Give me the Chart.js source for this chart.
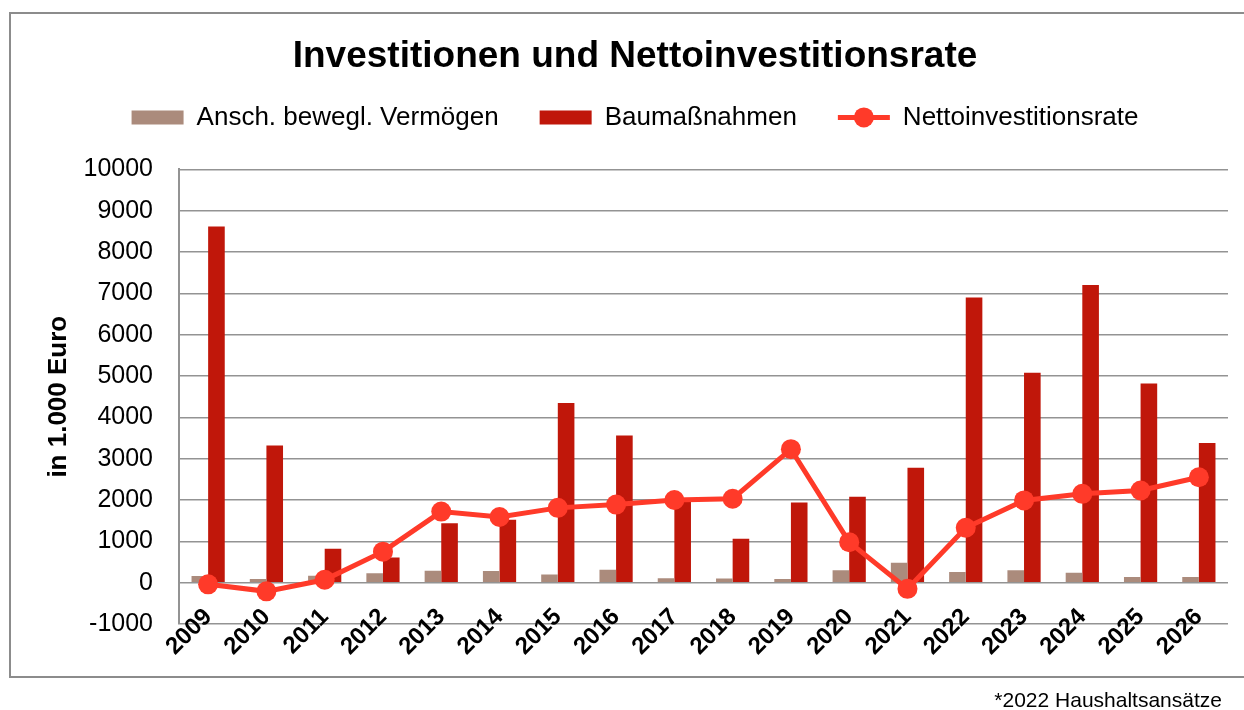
<!DOCTYPE html>
<html lang="de">
<head>
    <meta charset="UTF-8">
    <title>Investitionen und Nettoinvestitionsrate</title>
    <script src="https://cdn.jsdelivr.net/npm/chart.js"></script>
    <style>
        body {
            margin: 0;
            background: #fff;
            font-family: "Liberation Sans", Arial, sans-serif;
        }

        .frame {
            position: absolute;
            left: 9px;
            top: 12px;
            width: 1250px;
            height: 662px;
            border: 2px solid #8c8c8c;
        }

        .chart-box {
            position: absolute;
            left: 0;
            top: 0;
            width: 1244px;
            height: 710px;
        }

        .note {
            position: absolute;
            right: 22px;
            top: 688px;
            font-size: 21px;
            line-height: 24px;
            color: #000;
        }
    </style>
</head>
<body>

    <div class="frame"></div>
    <div class="chart-box">
        <canvas id="investChart" width="1244" height="710"></canvas>
    </div>
    <div class="note">*2022 Haushaltsansätze</div>

    <script>
        // Daten (in 1.000 Euro)
        const jahre = ['2009', '2010', '2011', '2012', '2013', '2014', '2015', '2016', '2017',
                       '2018', '2019', '2020', '2021', '2022', '2023', '2024', '2025', '2026'];
        const anschaffungen = [160, 90, 170, 230, 290, 280, 200, 310, 110,
                               100, 90, 300, 485, 260, 300, 240, 140, 140];
        const baumassnahmen = [8620, 3320, 820, 610, 1440, 1520, 4350, 3560, 1960,
                               1060, 1940, 2080, 2780, 6900, 5080, 7200, 4820, 3380];
        const nettoRate = [-40, -210, 70, 750, 1720, 1590, 1810, 1890, 2000,
                           2030, 3230, 980, -150, 1330, 1990, 2150, 2230, 2550];
        const yMin = -1000;
        const yMax = 10000;
        const yStep = 1000;

        const grau = '#ab8b7c';
        const rot = '#c0170a';
        const linie = '#ff3a29';

        Chart.defaults.font.family = "'Liberation Sans', Arial, sans-serif";
        Chart.defaults.color = '#000';

        // Platz zwischen Legende und Diagramm
        const legendGap = {
            id: 'legendGap',
            beforeInit(chart) {
                const fit = chart.legend.fit;
                chart.legend.fit = function () {
                    fit.call(this);
                    this.height += 29;
                };
            }
        };

        // Linie mit Punkt als Legendensymbol
        const legendMarker = {
            id: 'legendMarker',
            afterDraw(chart) {
                const lg = chart.legend;
                const i = lg.legendItems.findIndex(it => it.datasetIndex === 2);
                const hb = lg.legendHitBoxes[i];
                if (!hb) return;
                const ctx = chart.ctx;
                const cy = hb.top + 13;
                ctx.save();
                ctx.strokeStyle = linie;
                ctx.lineWidth = 5;
                ctx.beginPath();
                ctx.moveTo(hb.left, cy);
                ctx.lineTo(hb.left + 52, cy);
                ctx.stroke();
                ctx.fillStyle = linie;
                ctx.beginPath();
                ctx.arc(hb.left + 26, cy, 10, 0, Math.PI * 2);
                ctx.fill();
                ctx.restore();
            }
        };

        const ctx = document.getElementById('investChart').getContext('2d');
        const investChart = new Chart(ctx, {
            type: 'bar',
            data: {
                labels: jahre,
                datasets: [{
                    label: 'Ansch. bewegl. Vermögen',
                    data: anschaffungen,
                    backgroundColor: grau,
                    categoryPercentage: 0.57,
                    barPercentage: 1,
                    order: 1
                }, {
                    label: 'Baumaßnahmen',
                    data: baumassnahmen,
                    backgroundColor: rot,
                    categoryPercentage: 0.57,
                    barPercentage: 1,
                    order: 1
                }, {
                    type: 'line',
                    label: 'Nettoinvestitionsrate',
                    data: nettoRate,
                    borderColor: linie,
                    backgroundColor: linie,
                    borderWidth: 5,
                    pointRadius: 10,
                    pointHoverRadius: 10,
                    pointBorderWidth: 0,
                    pointBackgroundColor: linie,
                    tension: 0,
                    order: 0
                }]
            },
            options: {
                responsive: false,
                animation: false,
                layout: {
                    padding: { top: 12, left: 42, right: 16, bottom: 10 }
                },
                plugins: {
                    title: {
                        display: true,
                        text: 'Investitionen und Nettoinvestitionsrate',
                        font: { size: 37, weight: 'bold' },
                        color: '#000',
                        padding: { top: 23, bottom: -16 }
                    },
                    legend: {
                        position: 'top',
                        labels: {
                            boxWidth: 52,
                            boxHeight: 14,
                            padding: 41,
                            font: { size: 26 },
                            color: '#000',
                            sort: (a, b) => a.datasetIndex - b.datasetIndex,
                            generateLabels(chart) {
                                const items = Chart.defaults.plugins.legend.labels.generateLabels(chart);
                                items.forEach(it => {
                                    if (it.datasetIndex === 2) {
                                        it.fillStyle = 'rgba(0,0,0,0)';
                                        it.strokeStyle = 'rgba(0,0,0,0)';
                                        it.lineWidth = 0;
                                    }
                                });
                                return items;
                            }
                        }
                    },
                    tooltip: { enabled: false }
                },
                scales: {
                    x: {
                        grid: { display: false },
                        border: { display: false },
                        ticks: {
                            autoSkip: false,
                            maxRotation: 45,
                            minRotation: 45,
                            padding: -29,
                            font: { size: 24, weight: 'bold' },
                            color: '#000'
                        },
                        afterFit(scale) {
                            scale.height = 76;
                            // Jahreszahlen ragen wie im Original über die unterste Linie
                            scale._computeLabelArea = () => undefined;
                        }
                    },
                    y: {
                        min: yMin,
                        max: yMax,
                        ticks: {
                            stepSize: yStep,
                            padding: 26,
                            font: { size: 25 },
                            color: '#000',
                            callback: v => String(v)
                        },
                        grid: { color: '#939393', lineWidth: 1.5, drawTicks: false },
                        border: { color: '#939393', width: 2 },
                        title: {
                            display: true,
                            text: 'in 1.000 Euro',
                            font: { size: 26, weight: 'bold' },
                            color: '#000',
                            padding: { top: 1, bottom: 0 }
                        },
                        afterFit(scale) {
                            scale.width = 137;
                        }
                    }
                }
            },
            plugins: [legendGap, legendMarker]
        });
    </script>

</body>
</html>
